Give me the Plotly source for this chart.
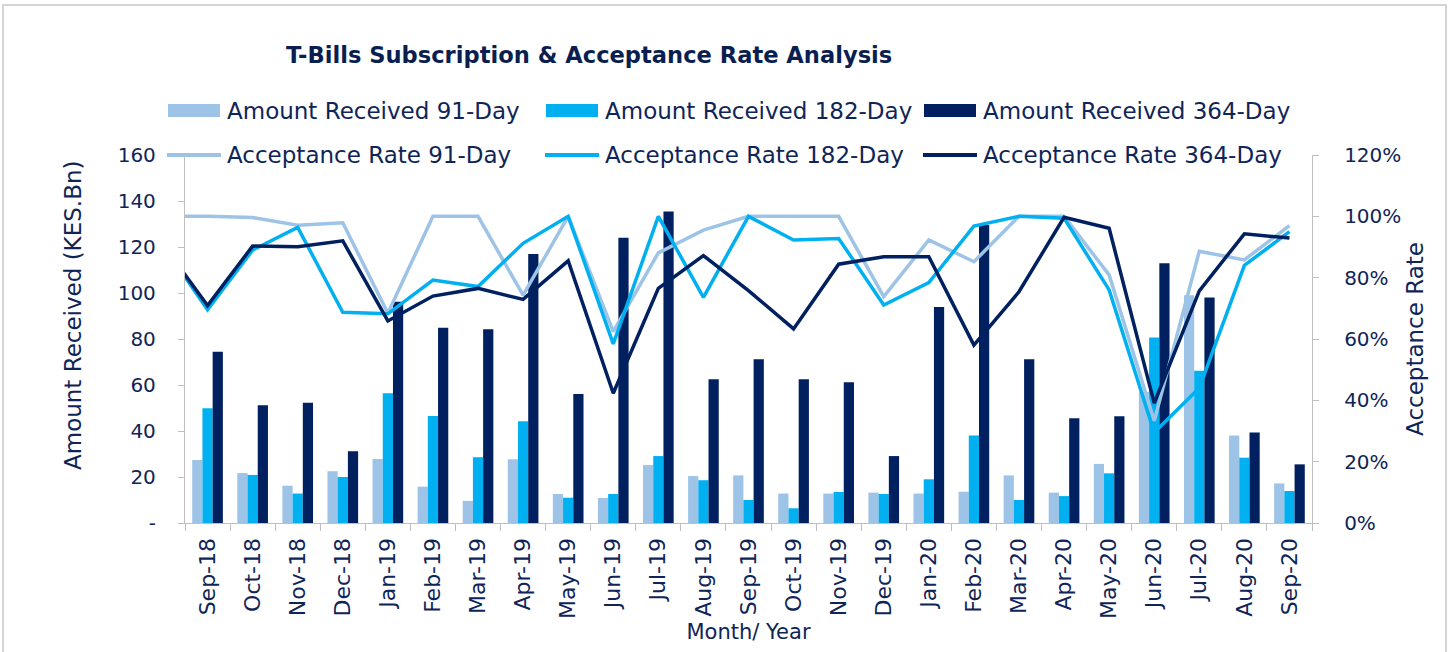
import plotly.graph_objects as go

# ---------------- data ----------------
months = ["Sep-18", "Oct-18", "Nov-18", "Dec-18", "Jan-19", "Feb-19", "Mar-19", "Apr-19",
          "May-19", "Jun-19", "Jul-19", "Aug-19", "Sep-19", "Oct-19", "Nov-19", "Dec-19",
          "Jan-20", "Feb-20", "Mar-20", "Apr-20", "May-20", "Jun-20", "Jul-20", "Aug-20", "Sep-20"]
lead_month = "Aug-18"  # earlier point whose segment is visible at the left edge of the lines

amt_91 = [27.4, 21.7, 16.2, 22.5, 27.8, 15.8, 9.6, 27.7, 12.6, 10.9, 25.2, 20.4, 20.7,
          12.8, 12.8, 13.2, 12.8, 13.6, 20.7, 13.2, 25.7, 57.0, 99.0, 38.0, 17.2]
amt_182 = [49.9, 20.9, 12.8, 20.0, 56.4, 46.5, 28.6, 44.2, 11.0, 12.6, 29.1, 18.6, 10.0,
           6.4, 13.5, 12.6, 19.0, 38.0, 10.0, 11.7, 21.6, 80.6, 66.2, 28.4, 13.9]
amt_364 = [74.5, 51.2, 52.3, 31.2, 96.2, 84.9, 84.2, 117.0, 56.1, 124.0, 135.4, 62.5, 71.2,
           62.5, 61.2, 29.1, 93.9, 129.6, 71.2, 45.5, 46.4, 112.9, 98.0, 39.3, 25.5]

# acceptance rates (%), first value is the lead month
rate_91 = [100, 100, 99.6, 97.1, 97.9, 68.4, 100, 100, 74.3, 100, 62.4, 88.1, 95.5, 100,
           100, 100, 73.8, 92.3, 85.2, 100, 100, 80.9, 33.3, 88.6, 85.8, 97.0]
rate_182 = [91, 69.5, 89.0, 96.4, 68.7, 68.2, 79.2, 77.1, 91.2, 100, 58.4, 100, 73.6, 100,
            92.3, 92.8, 71.1, 78.4, 96.8, 100, 99.4, 76.0, 29.5, 44.0, 84.0, 95.0]
rate_364 = [91, 70.9, 90.3, 90.1, 92.0, 65.9, 74.0, 76.5, 72.9, 85.5, 42.3, 76.5, 87.2, 75.8,
            63.3, 84.4, 86.8, 86.8, 58.0, 75.4, 99.7, 96.1, 39.1, 75.7, 94.3, 92.9]

left_ticks = [0, 20, 40, 60, 80, 100, 120, 140, 160]
left_ticktext = ["-", "20", "40", "60", "80", "100", "120", "140", "160"]
right_ticks = [0, 20, 40, 60, 80, 100, 120]
right_ticktext = ["0%", "20%", "40%", "60%", "80%", "100%", "120%"]

names_bar = ["Amount Received 91-Day", "Amount Received 182-Day", "Amount Received 364-Day"]
names_line = ["Acceptance Rate 91-Day", "Acceptance Rate 182-Day", "Acceptance Rate 364-Day"]

# ---------------- style ----------------
C91, C182, C364 = "#9DC3E6", "#00B0F0", "#002060"
TXT = "#0F2557"
GRID = "#BFBFBF"
FONT = "DejaVu Sans"

W, H = 1452, 652
PL, PR, PT, PB = 185, 1312, 155, 523   # plot area in pixels


def px(x):
    return (x - PL) / (PR - PL)


def py(y):
    return (PB - y) / (PB - PT)


fig = go.Figure()
for vals, col, nm in zip([amt_91, amt_182, amt_364], [C91, C182, C364], names_bar):
    fig.add_trace(go.Bar(x=months, y=vals, name=nm, marker=dict(color=col, line=dict(width=0)),
                         showlegend=False))

line_x = [lead_month] + months
for vals, col, nm in zip([rate_91, rate_182, rate_364], [C91, C182, C364], names_line):
    fig.add_trace(go.Scatter(x=line_x, y=vals, name=nm, yaxis="y2", mode="lines",
                             line=dict(color=col, width=3.5), showlegend=False))

shapes = []
annotations = []

# outer chart border
shapes.append(dict(type="rect", xref="paper", yref="paper", x0=px(3), x1=px(1446),
                   y0=py(670), y1=py(5), line=dict(color="#C8C8C8", width=1.5),
                   fillcolor="rgba(0,0,0,0)", layer="below"))

# manual legend (two rows)
col_x = [168, 546, 924]
LEG_SIZE = 23
for i in range(3):
    x0 = col_x[i]
    shapes.append(dict(type="rect", xref="paper", yref="paper", x0=px(x0), x1=px(x0 + 52),
                       y0=py(117), y1=py(104), line=dict(width=0),
                       fillcolor=[C91, C182, C364][i], layer="above"))
    shapes.append(dict(type="line", xref="paper", yref="paper", x0=px(x0 - 1), x1=px(x0 + 53),
                       y0=py(155), y1=py(155), line=dict(color=[C91, C182, C364][i], width=4),
                       layer="above"))
    annotations.append(dict(xref="paper", yref="paper", x=px(x0 + 57), y=py(111),
                            text=names_bar[i], showarrow=False, xanchor="left", yanchor="middle",
                            font=dict(family=FONT, size=LEG_SIZE, color=TXT)))
    annotations.append(dict(xref="paper", yref="paper", x=px(x0 + 57), y=py(155),
                            text=names_line[i], showarrow=False, xanchor="left", yanchor="middle",
                            font=dict(family=FONT, size=LEG_SIZE, color=TXT)))

# left axis title
annotations.append(dict(xref="paper", yref="paper", x=px(73), y=py(316),
                        text="Amount Received (KES.Bn)", showarrow=False, textangle=-90,
                        xanchor="center", yanchor="middle",
                        font=dict(family=FONT, size=23, color=TXT)))

fig.update_layout(
    width=W, height=H,
    margin=dict(l=PL, r=W - PR, t=PT, b=H - PB, pad=0),
    paper_bgcolor="white", plot_bgcolor="white",
    font=dict(family=FONT, color=TXT),
    title=dict(text="<b>T-Bills Subscription & Acceptance Rate Analysis</b>",
               x=286 / W, xref="container", xanchor="left",
               y=1 - 55 / H, yref="container", yanchor="middle",
               font=dict(family=FONT, size=22.6, color="#0A1F50")),
    barmode="group", bargap=0.32, bargroupgap=0,
    showlegend=False,
    xaxis=dict(type="category", categoryorder="array", categoryarray=line_x,
               range=[0.5, len(months) + 0.5],
               showline=True, linecolor=GRID, linewidth=1.3,
               ticks="outside", ticklen=7, tickcolor=GRID, tickwidth=1.3, tickson="boundaries",
               tickangle=-90, tickfont=dict(family=FONT, size=22, color=TXT),
               ticklabelstandoff=5,
               showgrid=False, zeroline=False,
               title=dict(text="Month/ Year", font=dict(family=FONT, size=21, color=TXT),
                          standoff=6)),
    yaxis=dict(range=[0, 160], tickvals=left_ticks, ticktext=left_ticktext,
               showline=True, linecolor=GRID, linewidth=1.3,
               ticks="outside", ticklen=6, tickcolor=GRID, tickwidth=1.3,
               ticklabelstandoff=18,
               tickfont=dict(family=FONT, size=20, color=TXT),
               showgrid=False, zeroline=False),
    yaxis2=dict(overlaying="y", side="right", range=[0, 120], tickvals=right_ticks,
                ticktext=right_ticktext,
                showline=True, linecolor=GRID, linewidth=1.3,
                ticks="outside", ticklen=6, tickcolor=GRID, tickwidth=1.3,
                ticklabelstandoff=21,
                tickfont=dict(family=FONT, size=20, color=TXT),
                showgrid=False, zeroline=False,
                title=dict(text="Acceptance Rate", font=dict(family=FONT, size=23, color=TXT),
                           standoff=6)),
    shapes=shapes,
    annotations=annotations,
)

fig.write_html("out.html", config={"displayModeBar": False},
               post_script="document.body.style.margin='0px';document.body.style.overflow='hidden';")
